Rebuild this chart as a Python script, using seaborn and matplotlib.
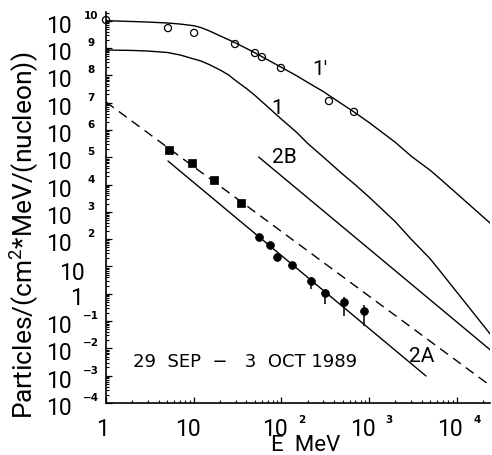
import numpy as np
import pandas as pd
import matplotlib
matplotlib.use("Agg")
import matplotlib.pyplot as plt
import seaborn as sns
from matplotlib.ticker import LogLocator, NullFormatter

# ---------------- data ----------------
E_grid = [1, 2, 3, 5, 7, 10, 12, 15, 20, 25, 30, 40, 50, 70, 100, 150, 200, 300, 500, 700,
          1000, 2000, 3000, 5000, 7000, 10000, 24000]
F_curve_1p = [1.01e10, 9.4e9, 9.0e9, 8.3e9, 7.6e9, 6.6e9, 5.7e9, 4.3e9, 2.8e9, 2.03e9,
              1.54e9, 9.7e8, 6.7e8, 3.7e8, 1.98e8, 9.6e7, 5.5e7, 2.57e7, 8.6e6, 4.2e6,
              1.88e6, 3.5e5, 1.12e5, 3.3e4, 1.3e4, 4.7e3, 3.9e2]
F_curve_1 = [8.5e8, 8.2e8, 7.8e8, 6.9e8, 5.6e8, 4.0e8, 3.4e8, 2.5e8, 1.58e8, 1.04e8,
             6.5e7, 3.3e7, 1.84e7, 7.0e6, 2.5e6, 8.1e5, 3.2e5, 1.03e5, 2.4e4, 9.7e3,
             3.5e3, 4.3e2, 1.02e2, 18.8, 4.9, 1.16, 0.034]

E_2B = [55, 25000]
F_2B = [1.03e5, 8.0e-3]
E_2A = [5.09, 4456]
F_2A = [7.3e4, 9.8e-4]
E_dash = [1, 25200]
F_dash = [1.06e7, 3.9e-4]

E_open = [1, 5.09, 10.1, 29.6, 50, 60, 98.9, 349, 673]
F_open = [1.07e10, 5.4e9, 3.6e9, 1.41e9, 6.6e8, 4.7e8, 1.87e8, 1.15e7, 4.6e6]

E_sq = [5.23, 9.57, 17.0, 34.6]
F_sq = [1.85e5, 6.2e4, 1.47e4, 2.1e3]

E_fc = [55.5, 74.1, 89.1, 132, 218, 314, 517, 875]
F_fc = [120, 61, 22.3, 11.4, 2.94, 1.07, 0.50, 0.234]

E_err = [218, 314, 517, 875]
F_err = [2.94, 1.07, 0.50, 0.234]
F_err_lo = [1.5, 0.42, 0.154, 0.066]
F_err_hi = [4.1, 1.5, 0.76, 0.39]

ytick_exps = list(range(-4, 11))
xtick_exps = [0, 1, 2, 3, 4]

curve_labels = ["1'", "1", "2B", "2A"]
date_text = "29  SEP  \u2212   3  OCT 1989"
xlabel = "E  MeV"
ylabel = "Particles/(cm$^2$*MeV/(nucleon))"

# ---------------- figure ----------------
sns.set_style("ticks")
FONT = ["Roboto", "DejaVu Sans"]
plt.rcParams["font.family"] = FONT
plt.rcParams["text.color"] = "black"
plt.rcParams["mathtext.fontset"] = "custom"
plt.rcParams["mathtext.rm"] = "Roboto"
plt.rcParams["mathtext.it"] = "Roboto"

W, H = 492, 456
fig = plt.figure(figsize=(W / 100, H / 100), dpi=100)
ax = fig.add_axes([106 / W, 52 / H, (490 - 106) / W, (404 - 13) / H])
ax.set_xscale("log")
ax.set_yscale("log")
ax.set_xlim(1, 10 ** 4.379)
ax.set_ylim(1e-4, 10 ** 10.322)

lw = 1.0
sns.lineplot(x=E_grid, y=F_curve_1p, ax=ax, color="black", lw=lw, sort=False, estimator=None)
sns.lineplot(x=E_grid, y=F_curve_1, ax=ax, color="black", lw=lw, sort=False, estimator=None)
sns.lineplot(x=E_2B, y=F_2B, ax=ax, color="black", lw=lw, sort=False, estimator=None)
sns.lineplot(x=E_2A, y=F_2A, ax=ax, color="black", lw=lw, sort=False, estimator=None)
sns.lineplot(x=E_dash, y=F_dash, ax=ax, color="black", lw=lw, sort=False, estimator=None,
             linestyle=(0, (7, 4.5)))

ax.errorbar(E_err, F_err,
            yerr=[np.array(F_err) - np.array(F_err_lo), np.array(F_err_hi) - np.array(F_err)],
            fmt="none", ecolor="black", elinewidth=1.1, capsize=0)

sns.scatterplot(x=E_open, y=F_open, ax=ax, marker="o", s=26, fc="none", ec="black",
                linewidth=0.9, zorder=5, clip_on=False)
sns.scatterplot(x=E_sq, y=F_sq, ax=ax, marker="s", s=26, color="black", ec="black",
                linewidth=0.5, zorder=5)
sns.scatterplot(x=E_fc, y=F_fc, ax=ax, marker="o", s=32, color="black", ec="black",
                linewidth=0.5, zorder=5)

# axes styling
for s in ["top", "right"]:
    ax.spines[s].set_visible(False)
for s in ["left", "bottom"]:
    ax.spines[s].set_linewidth(1.2)
    ax.spines[s].set_color("black")
ax.xaxis.set_major_locator(LogLocator(base=10, numticks=20))
ax.xaxis.set_minor_locator(LogLocator(base=10, subs=np.arange(2, 10), numticks=20))
ax.yaxis.set_major_locator(LogLocator(base=10, numticks=40))
ax.yaxis.set_minor_locator(LogLocator(base=10, subs=np.arange(2, 10), numticks=40))
for a in (ax.xaxis, ax.yaxis):
    a.set_major_formatter(NullFormatter())
    a.set_minor_formatter(NullFormatter())
ax.tick_params(which="major", direction="in", length=4.5, width=0.9, color="black")
ax.tick_params(which="minor", direction="in", length=2.4, width=0.8, color="black")

P = 0.72  # px -> pt
big = dict(fontsize=16.5, color="black", family=FONT)
small = dict(fontsize=7.5, fontweight="bold", color="black", family=["DejaVu Sans"])

def sup(k):
    return str(k).replace("-", "\u2212")

# y tick labels
for k in ytick_exps:
    y = 10.0 ** k
    if k == 0:
        ax.annotate("1", xy=(0, y), xycoords=("axes fraction", "data"),
                    xytext=(-23 * P, -10 * P), textcoords="offset points",
                    ha="right", va="baseline", **big)
    elif k == 1:
        ax.annotate("10", xy=(0, y), xycoords=("axes fraction", "data"),
                    xytext=(-21 * P, -12.5 * P), textcoords="offset points",
                    ha="right", va="baseline", **big)
    else:
        ax.annotate("10", xy=(0, y), xycoords=("axes fraction", "data"),
                    xytext=(-34 * P, -11 * P), textcoords="offset points",
                    ha="right", va="baseline", **big)
        ax.annotate(sup(k), xy=(0, y), xycoords=("axes fraction", "data"),
                    xytext=(-15 * P, 3 * P), textcoords="offset points",
                    ha="center", va="baseline", **small)

# x tick labels
for k in xtick_exps:
    x = 10.0 ** k
    if k == 0:
        ax.annotate("1", xy=(x, 0), xycoords=("data", "axes fraction"),
                    xytext=(-4 * P, -32 * P), textcoords="offset points",
                    ha="center", va="baseline", **big)
    elif k == 1:
        ax.annotate("10", xy=(x, 0), xycoords=("data", "axes fraction"),
                    xytext=(-6 * P, -32 * P), textcoords="offset points",
                    ha="center", va="baseline", **big)
    else:
        ax.annotate("10", xy=(x, 0), xycoords=("data", "axes fraction"),
                    xytext=(-6.5 * P, -32 * P), textcoords="offset points",
                    ha="center", va="baseline", **big)
        ax.annotate(sup(k), xy=(x, 0), xycoords=("data", "axes fraction"),
                    xytext=(20 * P, -19 * P), textcoords="offset points",
                    ha="center", va="baseline", **small)

def ftext(px, py, s, **kw):
    kw.setdefault("family", FONT)
    kw.setdefault("color", "black")
    fig.text(px / W, 1 - py / H, s, **kw)

# axis titles
ftext(306, 451.5, xlabel, fontsize=16, ha="center", va="baseline")
ftext(24, 235, ylabel, fontsize=19, ha="center", va="center", rotation=90)

# curve labels
lab_pos = [(320, 75), (277, 114), (284, 163), (422, 362)]
for s, (px, py) in zip(curve_labels, lab_pos):
    ftext(px, py, s, fontsize=15, ha="center", va="baseline")

ftext(133, 367, date_text, fontsize=13, ha="left", va="baseline", family=["DejaVu Sans"])

fig.savefig("out.png", dpi=100)
